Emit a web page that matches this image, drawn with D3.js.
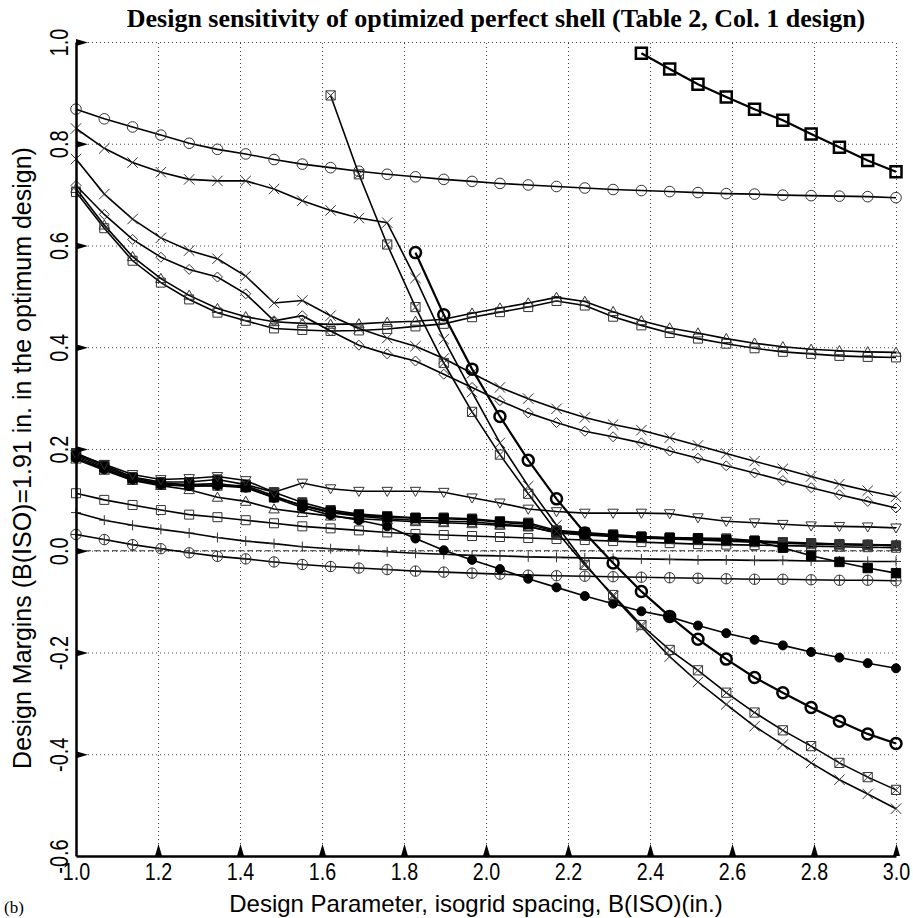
<!DOCTYPE html>
<html>
<head>
<meta charset="utf-8">
<script src="https://cdn.jsdelivr.net/npm/d3@7"></script>
<style>
body { margin: 0; background: #fff }
svg { display: block }
</style>
</head>
<body>
<svg id="svg" width="913" height="918"></svg>
<script>
// isogrid spacing sweep, B(ISO) in.
var xs = [1.000, 1.069, 1.138, 1.207, 1.276, 1.345, 1.414, 1.483, 1.552, 1.621,
	1.690, 1.759, 1.828, 1.897, 1.966, 2.034, 2.103, 2.172, 2.241, 2.310,
	2.379, 2.448, 2.517, 2.586, 2.655, 2.724, 2.793, 2.862, 2.931, 3.000]

var xTicks = [1.0, 1.2, 1.4, 1.6, 1.8, 2.0, 2.2, 2.4, 2.6, 2.8, 3.0]
var yTicks = [-0.6, -0.4, -0.2, 0.0, 0.2, 0.4, 0.6, 0.8, 1.0]

var boldSquare = [null, null, null, null, null, null, null, null, null, null,
	null, null, null, null, null, null, null, null, null, null,
	0.978, 0.947, 0.917, 0.892, 0.868, 0.846, 0.819, 0.793, 0.767, 0.745]
var circleTop = [0.868, 0.849, 0.833, 0.817, 0.801, 0.789, 0.780, 0.769, 0.760, 0.753,
	0.746, 0.740, 0.735, 0.730, 0.726, 0.722, 0.719, 0.716, 0.713, 0.710,
	0.708, 0.706, 0.704, 0.702, 0.701, 0.699, 0.698, 0.697, 0.696, 0.694]
var crossTop = [0.830, 0.791, 0.763, 0.744, 0.730, 0.727, 0.727, 0.711, 0.688, 0.669,
	0.654, 0.645, 0.536, 0.416, 0.312, 0.212, 0.127, 0.050, -0.025, -0.090,
	-0.150, -0.208, -0.258, -0.302, -0.345, -0.381, -0.417, -0.450, -0.478, -0.507]
var squareCross = [null, null, null, null, null, null, null, null, null, 0.895,
	0.740, 0.602, 0.479, 0.369, 0.273, 0.189, 0.112, 0.038, -0.028, -0.087,
	-0.146, -0.195, -0.235, -0.279, -0.318, -0.353, -0.384, -0.417, -0.445, -0.470]
var boldCircle = [null, null, null, null, null, null, null, null, null, null,
	null, null, 0.586, 0.464, 0.357, 0.264, 0.178, 0.102, 0.035, -0.024,
	-0.080, -0.129, -0.174, -0.213, -0.249, -0.279, -0.308, -0.335, -0.360, -0.379]
var crossMid = [0.770, 0.701, 0.652, 0.615, 0.590, 0.574, 0.540, 0.487, 0.492, 0.462,
	0.437, 0.418, 0.402, 0.378, 0.349, 0.321, 0.299, 0.279, 0.262, 0.248,
	0.237, 0.222, 0.207, 0.191, 0.176, 0.161, 0.146, 0.131, 0.118, 0.106]
var diamondMid = [0.718, 0.661, 0.612, 0.577, 0.553, 0.538, 0.505, 0.452, 0.462, 0.432,
	0.404, 0.387, 0.373, 0.347, 0.321, 0.295, 0.271, 0.252, 0.235, 0.224,
	0.212, 0.196, 0.182, 0.167, 0.153, 0.138, 0.124, 0.110, 0.097, 0.084]
var pairUpper = [0.712, 0.640, 0.578, 0.535, 0.502, 0.476, 0.460, 0.450, 0.447, 0.445,
	0.446, 0.449, 0.451, 0.455, 0.467, 0.477, 0.487, 0.498, 0.490, 0.470,
	0.452, 0.438, 0.428, 0.417, 0.408, 0.401, 0.396, 0.393, 0.391, 0.390]
var pairLower = [0.705, 0.634, 0.570, 0.527, 0.494, 0.468, 0.452, 0.437, 0.434, 0.432,
	0.433, 0.436, 0.441, 0.446, 0.459, 0.469, 0.479, 0.491, 0.482, 0.460,
	0.443, 0.428, 0.417, 0.407, 0.398, 0.391, 0.387, 0.383, 0.381, 0.380]
var triDown = [0.190, 0.170, 0.150, 0.140, 0.142, 0.146, 0.138, 0.115, 0.133, 0.122,
	0.117, 0.117, 0.117, 0.115, 0.104, 0.094, 0.082, 0.077, 0.074, 0.074,
	0.074, 0.073, 0.065, 0.058, 0.055, 0.052, 0.049, 0.048, 0.047, 0.045]
var hourA = [0.192, 0.168, 0.145, 0.135, 0.135, 0.140, 0.130, 0.115, 0.095, 0.080,
	0.072, 0.068, 0.065, 0.065, 0.063, 0.058, 0.055, 0.040, 0.036, 0.032,
	0.028, 0.026, 0.025, 0.024, 0.020, 0.017, 0.015, 0.013, 0.012, 0.010]
var hourB = [0.185, 0.162, 0.140, 0.130, 0.128, 0.128, 0.128, 0.108, 0.088, 0.075,
	0.068, 0.063, 0.060, 0.058, 0.057, 0.052, 0.048, 0.035, 0.031, 0.028,
	0.025, 0.023, 0.021, 0.019, 0.017, 0.015, 0.013, 0.012, 0.011, 0.010]
var filledSquare = [0.188, 0.165, 0.143, 0.133, 0.130, 0.132, 0.125, 0.105, 0.090, 0.077,
	0.070, 0.066, 0.064, 0.063, 0.061, 0.056, 0.052, 0.038, 0.034, 0.030,
	0.027, 0.025, 0.024, 0.021, 0.019, 0.006, -0.010, -0.022, -0.034, -0.044]
var filledCircle = [0.182, 0.160, 0.140, 0.130, 0.127, 0.128, 0.124, 0.104, 0.085, 0.070,
	0.060, 0.048, 0.024, 0.001, -0.018, -0.036, -0.055, -0.072, -0.089, -0.104,
	-0.119, -0.130, -0.147, -0.162, -0.175, -0.186, -0.199, -0.210, -0.221, -0.231]
var triUp = [0.180, 0.158, 0.138, 0.128, 0.120, 0.105, 0.097, 0.082, 0.075, 0.068,
	0.063, 0.060, 0.057, 0.055, 0.053, 0.050, 0.047, 0.036, 0.032, 0.029,
	0.026, 0.024, 0.022, 0.020, 0.018, 0.016, 0.014, 0.013, 0.012, 0.011]
var squareLow = [0.113, 0.100, 0.090, 0.080, 0.071, 0.066, 0.060, 0.054, 0.048, 0.044,
	0.040, 0.036, 0.033, 0.031, 0.029, 0.027, 0.025, 0.023, 0.021, 0.019,
	0.017, 0.015, 0.013, 0.012, 0.011, 0.010, 0.009, 0.008, 0.007, 0.006]
var plusLow = [0.075, 0.060, 0.050, 0.042, 0.035, 0.026, 0.019, 0.014, 0.008, 0.004,
	0.001, -0.002, -0.005, -0.007, -0.009, -0.010, -0.012, -0.013, -0.014, -0.015,
	-0.016, -0.017, -0.018, -0.018, -0.019, -0.019, -0.020, -0.020, -0.021, -0.021]
var circlePlus = [0.032, 0.022, 0.012, 0.004, -0.004, -0.011, -0.016, -0.022, -0.027, -0.031,
	-0.034, -0.037, -0.040, -0.042, -0.044, -0.046, -0.048, -0.049, -0.050, -0.051,
	-0.052, -0.053, -0.054, -0.055, -0.056, -0.056, -0.057, -0.058, -0.058, -0.059]

// how each curve is drawn
var series = [
	{v: circlePlus, m: "circlePlus"},
	{v: plusLow, m: "plus"},
	{v: squareLow, m: "square"},
	{v: triUp, m: "triUp"},
	{v: hourB, m: "squareCross"},
	{v: hourA, m: "hourglass"},
	{v: filledSquare, m: "fillSquare"},
	{v: filledCircle, m: "dot"},
	{v: triDown, m: "triDown"},
	{v: pairLower, m: "square"},
	{v: pairUpper, m: "triUp"},
	{v: diamondMid, m: "diamond"},
	{v: crossMid, m: "cross"},
	{v: circleTop, m: "circle"},
	{v: crossTop, m: "cross"},
	{v: squareCross, m: "squareCross"},
	{v: boldCircle, m: "circle", bold: true},
	{v: boldSquare, m: "square", bold: true}
]

var svg = d3.select("#svg")
var plotLeft = 76, plotRight = 896, plotTop = 42, plotBottom = 856

var x = d3.scaleLinear().domain([1, 3]).range([plotLeft, plotRight])
var y = d3.scaleLinear().domain([-0.6, 1]).range([plotBottom, plotTop])

var sans = "'Liberation Sans', Arial, Helvetica, sans-serif"
var serif = "'Liberation Serif', 'Times New Roman', serif"

// dotted grid
svg.append("g")
	.attr("transform", "translate(0," + plotBottom + ")")
	.call(d3.axisBottom(x).tickValues(xTicks.slice(1)).tickSizeInner(-(plotBottom - plotTop)).tickSizeOuter(0).tickFormat(""))
	.call(function (g) { g.select(".domain").remove() })
	.selectAll("line")
	.attr("stroke", "#444").attr("stroke-width", 1).attr("stroke-dasharray", "1,3")
svg.append("g")
	.attr("transform", "translate(" + plotLeft + ",0)")
	.call(d3.axisLeft(y).tickValues(yTicks.slice(1)).tickSizeInner(-(plotRight - plotLeft)).tickSizeOuter(0).tickFormat(""))
	.call(function (g) { g.select(".domain").remove() })
	.selectAll("line")
	.attr("stroke", "#444").attr("stroke-width", 1).attr("stroke-dasharray", "1,3")

// zero reference
svg.append("line")
	.attr("x1", x(1)).attr("x2", x(3))
	.attr("y1", y(0)).attr("y2", y(0))
	.attr("stroke", "#333").attr("stroke-width", 1.2).attr("stroke-dasharray", "6,3")

function markerPath(type, s) {
	var c = "M" + s + ",0A" + s + "," + s + " 0 1 1 " + (-s) + ",0A" + s + "," + s + " 0 1 1 " + s + ",0Z"
	var sq = "M" + (-s) + "," + (-s) + "H" + s + "V" + s + "H" + (-s) + "Z"
	var xx = "M" + (-s) + "," + (-s) + "L" + s + "," + s + "M" + (-s) + "," + s + "L" + s + "," + (-s)
	var pl = "M" + (-s) + ",0H" + s + "M0," + (-s) + "V" + s
	switch (type) {
		case "circle": case "dot": return c
		case "square": case "fillSquare": return sq
		case "cross": return xx
		case "plus": return pl
		case "circlePlus": return c + pl
		case "squareCross": return sq + xx
		case "hourglass": return sq + "M" + (-s) + "," + (-s) + "L" + s + "," + (-s) + "L0,0Z" + "M" + (-s) + "," + s + "L" + s + "," + s + "L0,0Z"
		case "diamond": return "M0," + (-s) + "L" + s + ",0L0," + s + "L" + (-s) + ",0Z"
		case "triUp": return "M0," + (-s) + "L" + s + "," + (s * 0.75) + "L" + (-s) + "," + (s * 0.75) + "Z"
		case "triDown": return "M0," + s + "L" + s + "," + (-s * 0.75) + "L" + (-s) + "," + (-s * 0.75) + "Z"
	}
}

var markerSize = {circle: 5.3, dot: 4.5, square: 4.5, fillSquare: 4.7, cross: 5.2, plus: 5,
	circlePlus: 5.2, squareCross: 4.6, hourglass: 4.5, diamond: 5, triUp: 5.2, triDown: 5.2}

var line = d3.line()
	.defined(function (d) { return d[1] !== null })
	.x(function (d) { return x(d[0]) })
	.y(function (d) { return y(d[1]) })

series.forEach(function (s) {
	var pts = xs.map(function (v, i) { return [v, s.v[i]] })
	var g = svg.append("g")
	g.append("path")
		.attr("d", line(pts))
		.attr("fill", "none")
		.attr("stroke", "#000")
		.attr("stroke-width", s.bold ? 2.2 : 1.6)
	var filled = s.m == "dot" || s.m == "fillSquare"
	g.selectAll("path.m")
		.data(pts.filter(function (d) { return d[1] !== null }))
		.join("path")
		.attr("class", "m")
		.attr("transform", function (d) { return "translate(" + x(d[0]) + "," + y(d[1]) + ")" })
		.attr("d", markerPath(s.m, s.bold ? 5.5 : markerSize[s.m]))
		.attr("fill", filled ? "#000" : "none")
		.attr("stroke", s.bold || filled ? "#000" : "#333")
		.attr("stroke-width", s.bold ? 2.5 : 1)
	if (s.m == "hourglass")
		g.selectAll("path.m").attr("fill", "#333")
})

// axes: thick left and bottom, triangle ticks pointing inward
var gx = svg.append("g")
	.attr("transform", "translate(0," + plotBottom + ")")
	.call(d3.axisBottom(x).tickValues(xTicks).tickSizeInner(0).tickSizeOuter(0).tickPadding(7)
		.tickFormat(function (d) { return d.toFixed(1) }))
gx.select(".domain").attr("stroke", "#000").attr("stroke-width", 2.5)
gx.selectAll(".tick text")
	.attr("font-family", sans).attr("font-size", 24).attr("fill", "#000")
	.attr("transform", "scale(0.82,1)")
gx.selectAll(".tick").filter(function (d) { return d > 1 })
	.append("path").attr("d", "M-3.5,0L0,-12L3.5,0Z").attr("fill", "#000")

var gy = svg.append("g")
	.attr("transform", "translate(" + plotLeft + ",0)")
	.call(d3.axisLeft(y).tickValues(yTicks).tickSizeInner(0).tickSizeOuter(0)
		.tickFormat(function (d) { return d.toFixed(1) }))
gy.select(".domain").attr("stroke", "#000").attr("stroke-width", 2.5)
gy.selectAll(".tick text")
	.attr("font-family", sans).attr("font-size", 25).attr("fill", "#000")
	.attr("x", null).attr("dy", null)
	.attr("text-anchor", "middle")
	.attr("transform", "translate(-8,0) rotate(-90) scale(0.8,1)")
gy.selectAll(".tick").filter(function (d) { return d > -0.6 })
	.append("path").attr("d", "M0,-3.5L12,0L0,3.5Z").attr("fill", "#000")

// texts
svg.append("text")
	.attr("x", 496).attr("y", 27)
	.attr("text-anchor", "middle")
	.attr("font-family", serif).attr("font-weight", "bold").attr("font-size", 26)
	.text("Design sensitivity of optimized perfect shell (Table 2, Col. 1 design)")

svg.append("text")
	.attr("x", 476).attr("y", 912)
	.attr("text-anchor", "middle")
	.attr("font-family", sans).attr("font-size", 24)
	.text("Design Parameter, isogrid spacing, B(ISO)(in.)")

svg.append("text")
	.attr("transform", "translate(31,458) rotate(-90)")
	.attr("text-anchor", "middle")
	.attr("font-family", sans).attr("font-size", 25)
	.text("Design Margins (B(ISO)=1.91 in. in the optimum design)")

svg.append("text")
	.attr("x", 4).attr("y", 913)
	.attr("font-family", serif).attr("font-size", 17)
	.text("(b)")
</script>
</body>
</html>
